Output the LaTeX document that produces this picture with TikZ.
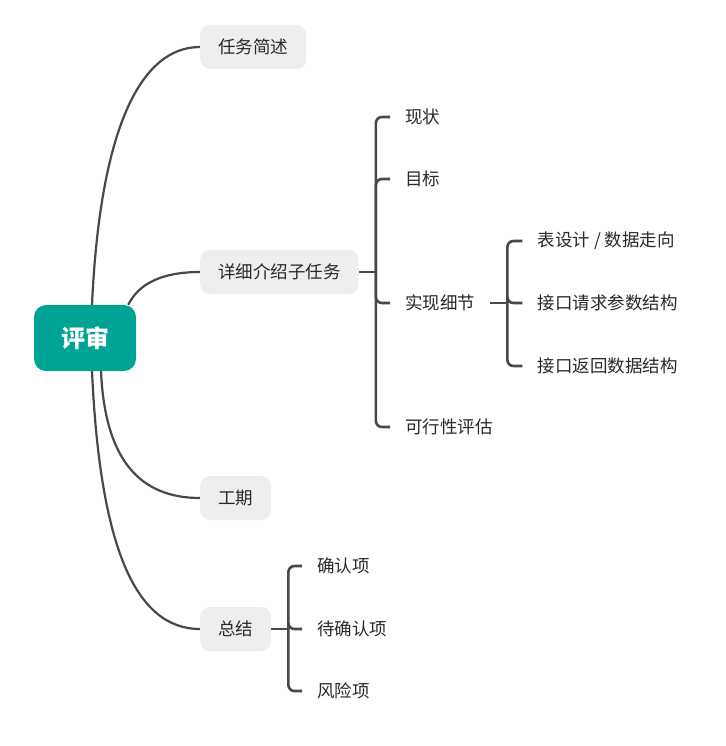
\documentclass[tikz,border=0pt]{standalone}
\usepackage{fontspec}
\setmainfont{Noto Sans CJK SC}
\usetikzlibrary{positioning,calc}
\definecolor{ink}{RGB}{40,40,40}
\definecolor{wire}{RGB}{72,72,72}
\definecolor{rootfill}{RGB}{0,164,151}
\definecolor{pale}{RGB}{238,238,238}
\tikzset{
  every picture/.style={color=ink, font=\fontsize{17.5}{20}\selectfont},
  topic/.style={fill=pale, rounded corners=10pt, inner xsep=18pt, minimum height=44pt, text=ink, anchor=west},
  rootbox/.style={fill=rootfill, rounded corners=12pt, minimum width=102pt, minimum height=66pt, text=white, font=\fontsize{24}{28}\selectfont\bfseries},
  leaf/.style={inner xsep=15pt, anchor=west, text=ink},
  branch/.style={draw=wire, line width=2.2pt},
  bracket/.style={draw=wire, line width=2.6pt, rounded corners=6pt},
}

\begin{document}
\begin{tikzpicture}[x=1pt, y=-1pt]
  \useasboundingbox (0,0) rectangle (725,746);
  % root and main topics
  \node[rootbox] (root) at (85,338) {评审};
  \node[topic] (brief) at (200,47) {任务简述};
  \node[topic] (detail) at (200,272) {详细介绍子任务};
  \node[topic] (period) at (200,498) {工期};
  \node[topic] (summary) at (200,629) {总结};
  \draw[branch] ($(root.north)+(7,0)$) .. controls +(8,-175) and +(-60,0) .. (brief.west);
  \draw[branch] ($(root.north east)+(-8,0)$) .. controls +(10,-20) and +(-40,0) .. (detail.west);
  \draw[branch] ($(root.south)+(16,0)$) .. controls +(4,89) and +(-60,0) .. (period.west);
  \draw[branch] ($(root.south)+(7,0)$) .. controls +(8,175) and +(-65,0) .. (summary.west);
  % sub-tasks
  \coordinate (dhub) at ($(detail.east)+(17,0)$);
  \node[leaf] (now) at (390,117) {现状};
  \node[leaf] (goal) at (390,179) {目标};
  \node[leaf] (impl) at (390,303) {实现细节};
  \node[leaf] (feas) at (390,427) {可行性评估};
  \draw[bracket] (detail.east) -- (dhub);
  \foreach \n in {now,goal,impl,feas} \draw[bracket] (dhub) |- (\n.west);
  % implementation details
  \coordinate (ihub) at ($(impl.east)+(17,0)$);
  \node[leaf] (table) at ($(ihub)+(15,-62)$) {表设计 / 数据走向};
  \node[leaf] (req) at ($(ihub)+(15,0)$) {接口请求参数结构};
  \node[leaf] (resp) at ($(ihub)+(15,63)$) {接口返回数据结构};
  \draw[bracket] (impl.east) -- (ihub);
  \foreach \n in {table,req,resp} \draw[bracket] (ihub) |- (\n.west);
  % summary
  \coordinate (shub) at ($(summary.east)+(17,0)$);
  \node[leaf] (ok) at (302,566) {确认项};
  \node[leaf] (open) at (302,629) {待确认项};
  \node[leaf] (risk) at (302,691) {风险项};
  \draw[bracket] (summary.east) -- (shub);
  \foreach \n in {ok,open,risk} \draw[bracket] (shub) |- (\n.west);
\end{tikzpicture}
\end{document}
